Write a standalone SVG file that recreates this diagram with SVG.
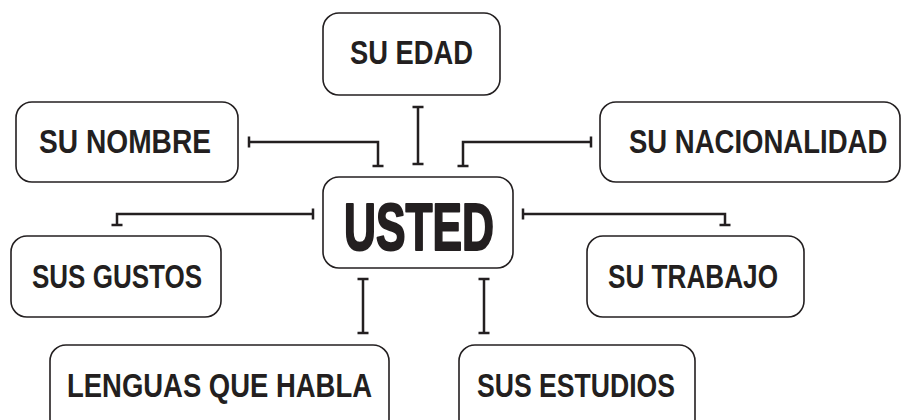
<svg xmlns="http://www.w3.org/2000/svg" width="903" height="420" viewBox="0 0 903 420">
<style>
.box{fill:#fff;stroke:#231f20;stroke-width:1.6}
.lbl{font-family:"Liberation Sans",Arial,sans-serif;font-weight:bold;font-size:33px;fill:#231f20}
.big{font-family:"Liberation Sans",Arial,sans-serif;font-weight:bold;font-size:67px;fill:#231f20;stroke:#231f20;stroke-width:2.2;stroke-linejoin:round}
.con{fill:none;stroke:#231f20;stroke-width:2.5}
</style>
<rect width="903" height="420" fill="#fff"/>
<g id="connectors" class="con">
<path d="M418 107V164M412.5 107H423.5M412.5 164H423.5"/>
<path d="M249 142H378V166M249 136.5V147.5M372.5 166H383.5"/>
<path d="M591 142H463V166M591 136.5V147.5M457.5 166H468.5"/>
<path d="M313 214H117V225M313 208.5V219.5M111.5 225H122.5"/>
<path d="M523 214H725V225M523 208.5V219.5M719.5 225H730.5"/>
<path d="M363 279V333M357.5 279H368.5M357.5 333H368.5"/>
<path d="M484 279V333M478.5 279H489.5M478.5 333H489.5"/>
</g>
<g id="usted"><rect class="box" x="323" y="177" width="190" height="91" rx="16"/><text class="big" x="344" y="250" textLength="150" lengthAdjust="spacingAndGlyphs">USTED</text></g>
<g id="su-edad"><rect class="box" x="323" y="13" width="177" height="82" rx="16"/><text class="lbl" x="350" y="64" textLength="123" lengthAdjust="spacingAndGlyphs">SU EDAD</text></g>
<g id="su-nombre"><rect class="box" x="16" y="102" width="222" height="80" rx="16"/><text class="lbl" x="39" y="153" textLength="172" lengthAdjust="spacingAndGlyphs">SU NOMBRE</text></g>
<g id="su-nacionalidad"><rect class="box" x="600" y="102" width="300" height="80" rx="16"/><text class="lbl" transform="translate(629 153) scale(0.82 1)" x="0" y="0" textLength="315" lengthAdjust="spacingAndGlyphs">SU NACIONALIDAD</text></g>
<g id="sus-gustos"><rect class="box" x="11" y="236" width="210" height="81" rx="16"/><text class="lbl" x="32" y="288" textLength="170" lengthAdjust="spacingAndGlyphs">SUS GUSTOS</text></g>
<g id="su-trabajo"><rect class="box" x="587" y="236" width="217" height="81" rx="16"/><text class="lbl" x="608" y="288" textLength="170" lengthAdjust="spacingAndGlyphs">SU TRABAJO</text></g>
<g id="lenguas"><rect class="box" x="50" y="345" width="339" height="90" rx="16"/><text class="lbl" x="67" y="397" textLength="305" lengthAdjust="spacingAndGlyphs">LENGUAS QUE HABLA</text></g>
<g id="sus-estudios"><rect class="box" x="459" y="345" width="236" height="90" rx="16"/><text class="lbl" x="477" y="397" textLength="198" lengthAdjust="spacingAndGlyphs">SUS ESTUDIOS</text></g>
</svg>
